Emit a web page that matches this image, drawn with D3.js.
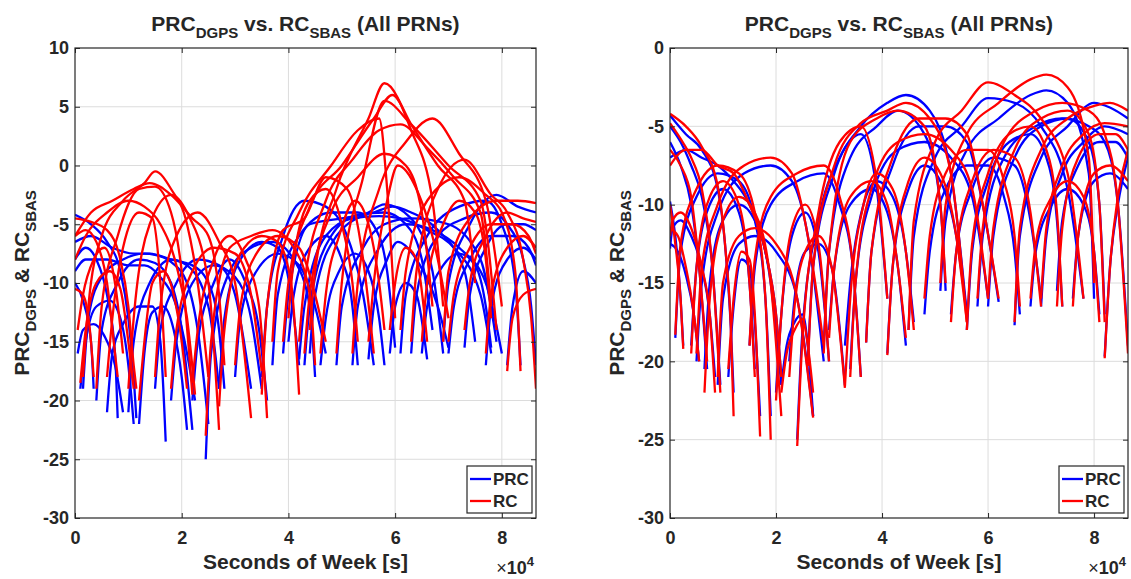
<!DOCTYPE html>
<html>
<head>
<meta charset="utf-8">
<script src="https://cdn.jsdelivr.net/npm/d3@7"></script>
<style>
  body { margin: 0; background: #fff; }
  text { font-family: "Liberation Sans", Arial, sans-serif; font-weight: bold; fill: #262626; }
</style>
</head>
<body>
<script>
// time in units of 1e4 s, values in metres
const xTicks = [0, 2, 4, 6, 8];
const leftYTicks = [10, 5, 0, -5, -10, -15, -20, -25, -30];
const rightYTicks = [0, -5, -10, -15, -20, -25, -30];

// left panel: one entry per satellite pass
const leftTimes = [
  [0, 0.3, 0.6, 0.85, 1.0, 1.1, 1.15],
  [0, 0.2, 0.4, 0.6, 0.75, 0.8],
  [0, 0.15, 0.3, 0.35],
  [0.15, 0.25, 0.5, 0.9, 1.3, 1.5, 1.8, 2.1, 2.3, 2.5],
  [0.4, 0.5, 0.8, 1.2, 1.5, 1.8, 2.0, 2.2],
  [0.6, 0.7, 0.9, 1.2, 1.45, 1.6, 1.7],
  [0.05, 0.15, 0.35, 0.55, 0.75, 0.9],
  [1.0, 1.1, 1.4, 1.8, 2.1, 2.5, 2.7],
  [1.5, 1.6, 1.9, 2.3, 2.7, 3.0, 3.3],
  [2.2, 2.3, 2.6, 2.9, 3.2, 3.45, 3.6],
  [2.45, 2.55, 2.9, 3.3, 3.7, 4.1, 4.4, 4.5],
  [2.7, 2.8, 3.1, 3.5, 3.8, 4.05, 4.2],
  [3.5, 3.6, 3.9, 4.3, 4.7, 5.1, 5.4, 5.6],
  [3.7, 3.8, 4.2, 4.8, 5.3, 5.7, 5.85, 6.0],
  [4.4, 4.5, 4.9, 5.5, 5.8, 6.3, 6.7, 6.9],
  [4.9, 5.0, 5.4, 5.8, 6.3, 7.0, 7.6, 7.9],
  [5.2, 5.3, 5.7, 6.2, 6.7, 7.2, 7.7, 8.0],
  [5.5, 5.6, 5.85, 6.05, 6.4, 6.8, 7.0],
  [6.1, 6.2, 6.6, 7.2, 7.7, 8.0, 8.25, 8.35],
  [6.9, 7.0, 7.4, 7.9, 8.3, 8.64],
  [7.3, 7.4, 7.7, 8.1, 8.4, 8.64],
  [7.7, 7.8, 8.1, 8.4, 8.64],
  [8.1, 8.2, 8.4, 8.64],
  [6.3, 6.4, 6.8, 7.3, 7.8, 8.1, 8.4, 8.55, 8.64],
  [4.0, 4.1, 4.4, 4.7, 5.0, 5.2, 5.3],
  [5.9, 6.0, 6.2, 6.4, 6.6],
  [1.2, 1.3, 1.45, 1.65, 1.85, 2.0, 2.1],
  [3.0, 3.1, 3.4, 3.8, 4.2, 4.5, 4.7],
  [4.6, 4.7, 4.95, 5.25, 5.5, 5.7, 5.8],
  [6.5, 6.6, 6.9, 7.2, 7.5, 7.7, 7.8],
  [3.9, 4.0, 4.4, 5.0, 5.6, 5.95, 6.3, 6.8, 7.3, 7.5],
  [4.2, 4.3, 4.7, 5.2, 5.7, 6.1, 6.6, 7.1, 7.6, 7.8],
  [0, 0.3, 0.7, 1.1, 1.4, 1.8, 2.2, 2.5, 2.7, 2.8],
  [0, 0.2, 0.6, 1.0, 1.3, 1.6, 1.9, 2.1, 2.25],
  [0.1, 0.2, 0.4, 0.65, 0.85, 1.0, 1.1],
  [1.8, 1.9, 2.2, 2.6, 3.0, 3.3, 3.5],
  [4.3, 4.4, 4.8, 5.3, 5.8, 6.2, 6.5, 6.7],
  [7.0, 7.1, 7.4, 7.8, 8.2, 8.5, 8.64]
];
const leftPrc = [
  [-4.2, -5, -6.5, -9, -13, -18, -21.5],
  [-8, -7, -8, -11, -16, -21.5],
  [-10, -11.5, -15, -19],
  [-19, -13, -9.5, -8, -7.5, -7.6, -8.2, -10, -14, -22],
  [-20, -14, -10, -8, -8.3, -10, -14, -22.5],
  [-21, -16, -13.5, -12, -12, -15, -23.5],
  [-16, -14, -13.5, -14.5, -17, -21],
  [-21, -15, -10, -8, -8.5, -12, -19],
  [-19, -14, -10, -8, -8.5, -11, -19],
  [-20, -15, -10, -8, -10, -14, -20],
  [-25, -16, -9, -7, -6.5, -8, -12, -18],
  [-19, -13, -8, -6.5, -7, -11, -17],
  [-18, -12, -6, -3, -3.5, -6, -11, -17],
  [-17, -11, -6, -4, -4, -6, -9, -15.5],
  [-16, -11, -6, -4, -3.3, -4.5, -9, -16],
  [-17, -12, -7, -5, -4.5, -5, -8, -15],
  [-17, -12, -7, -5, -5.5, -7, -10, -16],
  [-16.5, -12, -8, -6.5, -8, -12, -15.5],
  [-16, -11, -6, -3.5, -3, -5, -10, -17],
  [-15, -10, -5, -2.5, -3.5, -4],
  [-15.5, -11, -7, -5, -5, -5.5],
  [-17, -12, -8, -7, -8],
  [-17, -12, -9, -10],
  [-16, -11, -6, -4.5, -4, -5, -8, -12, -17],
  [-15, -11, -7, -6, -8, -12, -17],
  [-16, -12, -10, -11, -16.5],
  [-22, -16, -12.5, -12, -14, -18, -22.5],
  [-18, -13, -9, -7.5, -8.5, -12, -16],
  [-17, -13, -9, -7.5, -9, -13, -17],
  [-16, -12, -8.5, -7.5, -8.5, -12, -15.5],
  [-16, -11, -5, -4.5, -4, -3.5, -4, -5.5, -9, -15],
  [-16.5, -12, -6, -4.5, -4.3, -4.5, -5.5, -7, -11, -16],
  [-6.5, -6, -7, -7.5, -7.5, -8, -8.5, -10, -14, -19],
  [-9, -8, -8, -8.5, -8.5, -9.5, -12, -16, -20],
  [-19, -15, -12, -11.5, -13, -17, -22],
  [-20, -15, -10, -8.5, -9.5, -13, -19],
  [-17, -12, -6, -4.2, -4, -5, -8, -14],
  [-16, -12, -8, -6, -6, -7, -8.5]
];
const leftRc = [
  [-4.5, -4.8, -5.5, -8, -12, -17, -19],
  [-6, -5.5, -6.5, -10, -16, -18],
  [-10.5, -11, -15, -18],
  [-18, -12, -6, -3, -1.5, -0.5, -2, -5, -10, -18],
  [-19, -12, -6, -2, -1.8, -4, -9, -19.5],
  [-18, -13, -7, -4, -4.5, -10, -18],
  [-14, -11, -8, -7, -10, -16],
  [-19, -13, -5, -2.5, -4, -10, -22.5],
  [-18, -12, -6, -4, -6.5, -10, -21.5],
  [-18.5, -14, -8, -6, -8, -12, -21.5],
  [-23, -15, -7, -6, -5.5, -7, -11, -17],
  [-20.5, -14, -7.5, -6, -6.5, -10, -19.5],
  [-19.5, -12, -5.5, -4.5, -1, -2, -8, -16],
  [-15, -9, -4, 0, 3, 4, -2, -13],
  [-14, -9, -2, 4, 7, 3, -3, -12],
  [-16, -10, -1, 5.5, 3.5, 0, -3, -14],
  [-16, -10, -2, 2, 4, 1, -3, -12],
  [-15, -10, -3, 0, -2, -8, -13],
  [-14, -9, -3, -1, -2.5, -4, -9, -17.5],
  [-15, -9, -4.5, -3, -3, -3.2],
  [-14, -10, -6, -4, -4.5, -4.8],
  [-16, -11, -7, -6, -7],
  [-17.5, -13, -11, -10.5],
  [-15, -9, -2, 0.5, -2.5, -4, -8, -13, -19],
  [-13, -8, -3, -2, -5, -10, -15],
  [-14, -10, -7, -8, -15],
  [-20, -15, -10, -9, -11, -15, -19],
  [-17, -12, -7.5, -6, -7, -11, -15],
  [-16, -11, -6, -3, -5, -10, -14],
  [-15, -10, -5, -3, -4, -8, -13],
  [-15, -10, -3.5, 0, 4, 6, 3.5, 0, -3, -10],
  [-15, -10, -3, 0.5, 3, 3.5, 1.5, -1, -4, -12],
  [-6, -4, -3, -2, -1.5, -2.5, -4.5, -6, -11, -17],
  [-8, -6, -4, -3, -3.5, -5, -8.5, -13, -19.5],
  [-18.5, -14, -10, -9, -10.5, -15, -19],
  [-19, -14, -9, -7, -7.5, -11, -17.5],
  [-16, -11, -4, -1, 1, 0, -4, -12],
  [-15, -11, -7, -5, -5, -6, -7.5]
];

// right panel
const rightTimes = [
  [0, 0.3, 0.6, 0.9, 1.05, 1.15, 1.2],
  [0, 0.2, 0.4, 0.6, 0.8, 0.95],
  [0, 0.2, 0.4, 0.55, 0.7],
  [0, 0.1, 0.2, 0.25],
  [0, 0.15, 0.3, 0.45, 0.55],
  [0.1, 0.2, 0.5, 0.9, 1.3, 1.6, 1.8, 1.9],
  [0.5, 0.6, 0.9, 1.4, 1.9, 2.3, 2.6, 2.9],
  [0.65, 0.75, 1.0, 1.3, 1.6, 1.9, 2.1],
  [0.9, 1.0, 1.3, 1.6, 2.0, 2.4, 2.7],
  [1.1, 1.2, 1.35, 1.5, 1.6, 1.7],
  [1.5, 1.6, 1.9, 2.4, 2.9, 3.2, 3.45, 3.6],
  [2.1, 2.2, 2.35, 2.5, 2.6, 2.7],
  [2.25, 2.35, 2.55, 2.8, 3.05, 3.3],
  [2.4, 2.5, 2.8, 3.2, 3.6, 3.9, 4.1],
  [2.0, 2.1, 2.3, 2.55, 2.8, 3.0],
  [2.6, 2.7, 3.1, 3.6, 4.1, 4.45, 4.9, 5.3, 5.6],
  [2.9, 3.0, 3.4, 3.9, 4.3, 4.8, 5.1, 5.2],
  [3.3, 3.4, 3.65, 3.9, 4.2, 4.45, 4.6],
  [3.4, 3.5, 3.8, 4.3, 4.8, 5.3, 5.7, 6.0],
  [3.7, 3.8, 4.2, 4.7, 5.2, 5.6, 5.9, 6.2],
  [4.1, 4.2, 4.5, 4.8, 5.1, 5.4, 5.6],
  [4.5, 4.6, 5.0, 5.5, 6.0, 6.5, 7.0, 7.5, 7.8],
  [5.1, 5.2, 5.6, 6.2, 6.8, 7.1, 7.5, 7.9, 8.0],
  [5.3, 5.4, 5.7, 6.1, 6.5, 6.8, 7.0],
  [5.6, 5.7, 6.0, 6.4, 6.8, 7.1, 7.3, 7.4],
  [6.0, 6.1, 6.5, 7.0, 7.5, 7.9, 8.1, 8.2],
  [6.5, 6.6, 7.0, 7.5, 8.0, 8.3, 8.64],
  [7.0, 7.1, 7.4, 7.8, 8.2, 8.64],
  [7.3, 7.4, 7.7, 8.1, 8.4, 8.64],
  [7.6, 7.7, 8.0, 8.3, 8.64],
  [8.2, 8.3, 8.45, 8.64],
  [5.8, 5.9, 6.3, 6.9, 7.4, 7.9, 8.2, 8.45, 8.64],
  [0.4, 0.5, 0.75, 1.0, 1.3, 1.5, 1.6],
  [0, 0.3, 0.6, 0.9, 1.2, 1.5, 1.8, 2.0, 2.1],
  [0, 0.05, 0.2, 0.4, 0.6, 0.75, 0.85],
  [3.0, 3.1, 3.4, 3.8, 4.1, 4.3, 4.45],
  [6.8, 6.9, 7.2, 7.5, 7.8, 8.0, 8.1],
  [4.8, 4.9, 5.2, 5.6, 6.0, 6.3, 6.5, 6.6]
];
const rightPrc = [
  [-4.3, -5.5, -6.5, -9, -13, -18, -22],
  [-5, -6, -7.5, -9.5, -14, -21.5],
  [-6, -7.5, -10, -14, -20.5],
  [-9.8, -12, -16, -19],
  [-12.5, -13, -14.5, -17, -20],
  [-18.5, -13, -9.5, -8, -8.5, -11, -16, -23.5],
  [-20, -15, -10.5, -8, -7.5, -8.5, -12, -20],
  [-20.5, -15, -11, -10, -11, -15, -21.5],
  [-21.5, -16, -12.5, -12, -13, -16, -23.5],
  [-21, -16.5, -13.5, -14, -17.5, -23.5],
  [-19, -14, -10, -8.5, -8, -10, -14, -21],
  [-21.5, -19, -17.5, -17, -19, -23.5],
  [-20, -16, -13, -12.5, -14, -21.5],
  [-25, -18, -11, -7, -5.5, -9, -16],
  [-22, -17, -12, -10.5, -13, -20],
  [-20, -14, -8, -5, -3.5, -3, -4, -8, -17],
  [-19, -13, -7, -5, -4, -5.5, -10, -15.5],
  [-19, -15, -10, -8.5, -9.5, -13, -17.5],
  [-20.5, -15, -9.5, -6.5, -6, -7, -9.5, -16],
  [-18.8, -13, -7.5, -5, -5, -6, -10, -16.2],
  [-19.5, -14, -9, -7.5, -8.5, -12, -17],
  [-18, -12, -7, -5, -3.2, -3.5, -5, -9, -16],
  [-15.5, -11, -6.5, -4.5, -3, -2.7, -3.5, -8, -16],
  [-17, -13, -9, -7, -7.5, -11, -16],
  [-18, -13, -8.5, -6, -5.5, -7, -11, -16.5],
  [-16.5, -12, -7, -5, -4.5, -6, -10, -17],
  [-17.7, -12, -7, -5, -3.5, -3.8, -4.5],
  [-16.5, -12, -8, -6, -5, -5.5],
  [-15.5, -11, -7.5, -6, -6, -7],
  [-16, -12, -8.5, -8, -9],
  [-19.7, -14, -10, -7],
  [-16.5, -12, -7, -5, -4.5, -5, -6, -10, -19],
  [-19, -14, -10, -9, -10.5, -15, -20.5],
  [-7, -6.5, -7, -7.5, -8.5, -10, -13, -17, -21],
  [-12.8, -11.5, -11, -12, -14, -17, -21],
  [-18, -14, -10, -9, -10.5, -14, -19],
  [-16.5, -13, -10, -9, -10, -13, -17],
  [-17, -13, -9, -7.5, -7.5, -9.5, -13, -17]
];
const rightRc = [
  [-4.2, -5, -6.3, -8.8, -13, -18, -23.5],
  [-4.8, -5.8, -7, -9, -14, -22],
  [-6.5, -7.5, -9.5, -14, -20],
  [-10, -12.5, -16, -19.2],
  [-11.5, -12, -14, -17, -20],
  [-18.3, -12.5, -9, -7.5, -8, -10.5, -16, -25],
  [-19.5, -14, -10, -7.5, -7, -8, -12, -19],
  [-22, -16, -11, -9.5, -10.5, -15, -23.5],
  [-21, -15, -12, -11.5, -12.5, -16, -23.6],
  [-20.5, -16, -13, -13.5, -17, -24.8],
  [-19, -13.5, -9.5, -8, -7.5, -9.5, -14, -21],
  [-22, -19.5, -18, -17.3, -19, -22],
  [-21, -16.5, -13, -12, -14, -21.7],
  [-25.4, -18.5, -10.5, -6, -5, -8.5, -16],
  [-22.5, -17, -11.5, -10, -12.5, -20],
  [-20.3, -14, -7.5, -4.8, -4, -3.5, -4.5, -8, -17.5],
  [-19.5, -13, -6, -4.5, -4, -5, -10, -15],
  [-21.6, -16, -10, -8, -9, -13, -18],
  [-21, -15, -9, -6, -5.5, -6.5, -9, -16],
  [-18.8, -13, -7, -4.5, -4.5, -5.5, -10, -16],
  [-19.6, -14, -8.5, -7, -8, -12, -17.5],
  [-18, -11, -6, -4, -2.2, -3, -4.5, -8, -16],
  [-15, -10, -5.5, -3.5, -2, -1.7, -2.5, -7, -15],
  [-17.5, -13, -8.5, -6.5, -7, -10.5, -16.5],
  [-18, -12.5, -8, -5.5, -5, -6.5, -10.5, -16.5],
  [-16, -11.5, -6.5, -4.5, -4, -5.5, -10, -17.5],
  [-17.5, -11.5, -6.5, -4.5, -3.7, -3.5, -4],
  [-16, -11.5, -7.5, -5.5, -4.8, -5],
  [-16.5, -11.5, -7, -5.5, -5.5, -6.5],
  [-16.5, -12, -8, -7.5, -8.5],
  [-19.8, -14, -9.5, -6.5],
  [-16, -11.5, -6, -4, -3.5, -4, -5.5, -10, -19.5],
  [-19.5, -14, -9.5, -8.5, -10, -15, -21],
  [-7.5, -6.5, -6.5, -7.5, -8, -10, -13, -17, -21],
  [-12, -11, -10.5, -11.5, -14, -17, -22],
  [-18.5, -14, -9.5, -8.5, -10, -14, -18.5],
  [-16, -12.5, -9.5, -8.5, -9.5, -13, -17.5],
  [-16, -12, -8, -6.5, -6.5, -8.5, -12, -16.5]
];

const W = 1131, H = 579;
const plotTop = 48, plotBottom = 518;
const ink = "#262626";

const svg = d3.select("body").append("svg")
  .attr("width", W)
  .attr("height", H);

const addSubText = (sel, parts, big, small) => {
  parts.forEach(p => {
    const ts = sel.append("tspan").text(p.t);
    if (p.sub) {
      ts.attr("font-size", small).attr("dy", small * 0.45);
    } else {
      ts.attr("font-size", big).attr("dy", p.back ? -small * 0.45 : 0);
    }
  });
};

function drawPanel(p) {
  const x = d3.scaleLinear().domain([0, 8.64]).range([p.x0, p.x1]);
  const y = d3.scaleLinear().domain(p.yDomain).range([plotBottom, plotTop]);
  const g = svg.append("g");

  // grid
  g.append("g").selectAll("line")
    .data(xTicks.filter(d => d > 0))
    .join("line")
    .attr("x1", d => x(d)).attr("x2", d => x(d))
    .attr("y1", plotTop).attr("y2", plotBottom)
    .attr("stroke", "#dcdcdc").attr("stroke-width", 1);
  g.append("g").selectAll("line")
    .data(p.yTicks.filter(d => d !== p.yDomain[0] && d !== p.yDomain[1]))
    .join("line")
    .attr("x1", p.x0).attr("x2", p.x1)
    .attr("y1", d => y(d)).attr("y2", d => y(d))
    .attr("stroke", "#dcdcdc").attr("stroke-width", 1);

  // clip region for the data
  svg.append("clipPath").attr("id", "clip" + p.id)
    .append("rect")
    .attr("x", p.x0).attr("y", plotTop)
    .attr("width", p.x1 - p.x0).attr("height", plotBottom - plotTop);

  const line = d3.line()
    .x(d => x(d[0]))
    .y(d => y(d[1]))
    .curve(d3.curveMonotoneX);

  const plot = g.append("g").attr("clip-path", `url(#clip${p.id})`);
  const series = [
    { vals: p.prc, color: "#0000ff" },
    { vals: p.rc, color: "#ff0000" }
  ];
  series.forEach(s => {
    plot.append("g").selectAll("path")
      .data(p.times.map((t, i) => t.map((v, j) => [v, s.vals[i][j]])))
      .join("path")
      .attr("d", line)
      .attr("fill", "none")
      .attr("stroke", s.color)
      .attr("stroke-width", 2.3)
      .attr("stroke-linejoin", "round");
  });

  // axes, matlab style: ticks inside on all four sides
  const styleAxis = a => {
    a.select(".domain").remove();
    a.selectAll(".tick line").attr("stroke", ink);
    a.selectAll("text")
      .attr("font-family", "Liberation Sans, Arial, sans-serif")
      .attr("font-weight", "bold")
      .attr("font-size", 18)
      .attr("fill", ink);
  };
  g.append("g").attr("transform", `translate(0,${plotBottom})`)
    .call(d3.axisBottom(x).tickValues(xTicks).tickSize(-5).tickPadding(13).tickFormat(d => String(d)))
    .call(styleAxis);
  g.append("g").attr("transform", `translate(0,${plotTop})`)
    .call(d3.axisTop(x).tickValues(xTicks).tickSize(-5).tickFormat(""))
    .call(styleAxis);
  g.append("g").attr("transform", `translate(${p.x0},0)`)
    .call(d3.axisLeft(y).tickValues(p.yTicks).tickSize(-5).tickPadding(6).tickFormat(d => String(d)))
    .call(styleAxis);
  g.append("g").attr("transform", `translate(${p.x1},0)`)
    .call(d3.axisRight(y).tickValues(p.yTicks).tickSize(-5).tickFormat(""))
    .call(styleAxis);

  g.append("rect")
    .attr("x", p.x0).attr("y", plotTop)
    .attr("width", p.x1 - p.x0).attr("height", plotBottom - plotTop)
    .attr("fill", "none").attr("stroke", ink).attr("stroke-width", 1.2);

  // title
  const cx = (p.x0 + p.x1) / 2;
  const title = g.append("text")
    .attr("x", cx).attr("y", 31)
    .attr("text-anchor", "middle");
  addSubText(title, [
    { t: "PRC" }, { t: "DGPS", sub: true }, { t: " vs. RC", back: true },
    { t: "SBAS", sub: true }, { t: " (All PRNs)", back: true }
  ], 21, 15);

  // y label
  const ylab = g.append("text")
    .attr("transform", `translate(${p.x0 - 46},${(plotTop + plotBottom) / 2}) rotate(-90)`)
    .attr("text-anchor", "middle");
  addSubText(ylab, [
    { t: "PRC" }, { t: "DGPS", sub: true }, { t: " & RC", back: true },
    { t: "SBAS", sub: true }
  ], 21, 15);

  // x label
  g.append("text")
    .attr("x", cx).attr("y", 569)
    .attr("text-anchor", "middle")
    .attr("font-size", 21)
    .text("Seconds of Week [s]");

  // exponent
  const ex = g.append("text")
    .attr("x", p.x1 - 2).attr("y", 574)
    .attr("text-anchor", "end")
    .attr("font-size", 18);
  ex.append("tspan").attr("font-weight", "normal").text("\u00d7");
  ex.append("tspan").text("10");
  ex.append("tspan").attr("font-size", 13).attr("dy", -8).text("4");

  // legend
  const lg = g.append("g").attr("transform", `translate(${p.x1 - 69},466)`);
  lg.append("rect")
    .attr("width", 65).attr("height", 47)
    .attr("fill", "#fff").attr("stroke", ink).attr("stroke-width", 1.2);
  const legendItems = [
    { name: "PRC", color: "#0000ff" },
    { name: "RC", color: "#ff0000" }
  ];
  legendItems.forEach((d, i) => {
    lg.append("line")
      .attr("x1", 3).attr("x2", 24)
      .attr("y1", 13 + i * 22).attr("y2", 13 + i * 22)
      .attr("stroke", d.color).attr("stroke-width", 2.3);
    lg.append("text")
      .attr("x", 26).attr("y", 19 + i * 22)
      .attr("font-size", 17)
      .text(d.name);
  });
}

drawPanel({
  id: "L", x0: 75, x1: 536, yDomain: [-30, 10], yTicks: leftYTicks,
  times: leftTimes, prc: leftPrc, rc: leftRc
});
drawPanel({
  id: "R", x0: 670, x1: 1128, yDomain: [-30, 0], yTicks: rightYTicks,
  times: rightTimes, prc: rightPrc, rc: rightRc
});
</script>
</body>
</html>
